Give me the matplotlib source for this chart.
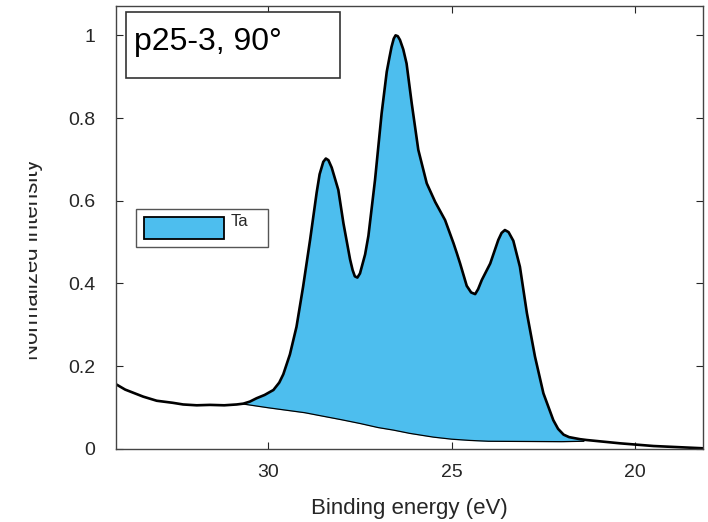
import numpy as np
import matplotlib
matplotlib.use('Agg')
import matplotlib.pyplot as plt
from matplotlib.patches import Rectangle
from matplotlib.transforms import Bbox

plt.rcParams['font.family'] = ['Liberation Sans', 'DejaVu Sans']

# measured spectrum (binding energy in eV, normalized intensity)
energy = [34.15, 33.9, 33.41, 33.04, 32.6, 32.32, 31.95, 31.59, 31.2, 30.86,
          30.68, 30.5, 30.32, 30.1, 29.86, 29.7, 29.59, 29.41, 29.23, 29.05,
          28.86, 28.68, 28.6, 28.5, 28.43, 28.36, 28.27, 28.09, 27.95, 27.77,
          27.7, 27.64, 27.57, 27.5, 27.36, 27.27, 27.09, 26.91, 26.77, 26.7,
          26.64, 26.58, 26.53, 26.47, 26.41, 26.32, 26.23, 26.09, 25.91, 25.68,
          25.45, 25.18, 24.95, 24.86, 24.77, 24.59, 24.47, 24.36, 24.28, 24.18,
          23.95, 23.73, 23.64, 23.55, 23.45, 23.32, 23.14, 22.95, 22.73, 22.5,
          22.23, 22.1, 21.95, 21.8, 21.5, 21.32, 20.41, 19.5, 18.15]
intensity = [0.156, 0.143, 0.126, 0.116, 0.111, 0.107, 0.105, 0.106, 0.105, 0.107,
             0.109, 0.114, 0.122, 0.130, 0.142, 0.160, 0.180, 0.228, 0.295, 0.392,
             0.505, 0.620, 0.664, 0.694, 0.702, 0.698, 0.680, 0.626, 0.545, 0.458,
             0.432, 0.417, 0.414, 0.424, 0.470, 0.515, 0.650, 0.811, 0.912, 0.945,
             0.972, 0.992, 1.0, 0.998, 0.989, 0.966, 0.932, 0.836, 0.723, 0.642,
             0.597, 0.553, 0.497, 0.473, 0.448, 0.394, 0.378, 0.374, 0.386, 0.408,
             0.448, 0.505, 0.522, 0.529, 0.524, 0.503, 0.440, 0.328, 0.223, 0.134,
             0.069, 0.048, 0.034, 0.028, 0.023, 0.021, 0.013, 0.0065, 0.001]

# Shirley-type background
bg_energy = [30.68, 30.0, 29.5, 29.0, 28.68, 28.0, 27.5, 27.0, 26.59, 26.14,
             25.5, 25.0, 24.5, 24.0, 23.0, 22.0, 21.4]
bg_intensity = [0.108, 0.099, 0.093, 0.087, 0.0815, 0.070, 0.061, 0.051, 0.045, 0.037,
                0.028, 0.023, 0.020, 0.018, 0.0175, 0.017, 0.018]

sample_label = 'p25-3, 90°'
component = 'Ta'
fill_color = '#4DBEEE'
axis_color = '#262626'

energy = np.array(energy)
intensity = np.array(intensity)
bg_energy = np.array(bg_energy)
bg_intensity = np.array(bg_intensity)

fig = plt.figure(figsize=(7.08, 5.22), dpi=100)
ax = fig.add_axes([116/708, 1 - 448.7/522, (703 - 116)/708, (448.7 - 6)/522])

# fill between spectrum and background
m = (energy <= bg_energy.max()) & (energy >= bg_energy.min())
xs = np.concatenate(([bg_energy.max()], energy[m], [bg_energy.min()]))
ys = np.interp(xs, energy[::-1], intensity[::-1])
bs = np.interp(xs, bg_energy[::-1], bg_intensity[::-1])
ax.fill_between(xs, bs, ys, color=fill_color, linewidth=0)

ax.plot(bg_energy, bg_intensity, color='black', linewidth=0.9)
ax.plot(energy, intensity, color='black', linewidth=1.9,
        solid_joinstyle='round')

ax.set_xlim(34.15, 18.15)
ax.set_ylim(0, 1.071)
ax.set_xticks([30, 25, 20])
ax.set_yticks([0, 0.2, 0.4, 0.6, 0.8, 1])
ax.set_yticklabels(['0', '0.2', '0.4', '0.6', '0.8', '1'])
ax.tick_params(direction='in', length=5, width=0.8, colors=axis_color,
               labelsize=14, top=True, right=True)
ax.tick_params(axis='x', pad=11)
ax.tick_params(axis='y', pad=15)
for s in ax.spines.values():
    s.set_color('#444444')
    s.set_linewidth(1.0)

ax.set_xlabel('Binding energy (eV)', fontsize=16, color=axis_color, labelpad=12)
ylab = ax.set_ylabel('Normalized intensity', fontsize=16, color=axis_color)
ax.yaxis.set_label_coords((43 - 116)/587, (448.7 - 260)/442.7)
# the label is cut at the left edge in the reference
ylab.set_clip_box(Bbox.from_extents(29, 0, 708, 522))
ylab.set_clip_on(True)

# sample name box
fig.patches.append(Rectangle((126/708, 1 - 78/522), 214/708, 66/522,
                             transform=fig.transFigure, facecolor='white',
                             edgecolor='#333333', linewidth=1.2))
fig.text(134/708, 1 - 42/522, sample_label, fontsize=23, color='black',
         va='center', ha='left')

# legend
fig.patches.append(Rectangle((136/708, 1 - 247/522), 132/708, 38/522,
                             transform=fig.transFigure, facecolor='white',
                             edgecolor='#555555', linewidth=1.0))
fig.patches.append(Rectangle((144/708, 1 - 239/522), 80/708, 22/522,
                             transform=fig.transFigure, facecolor=fill_color,
                             edgecolor='black', linewidth=1.3))
fig.text(231/708, 1 - 222/522, component, fontsize=12, color=axis_color,
         va='center', ha='left')

fig.savefig('out.png', dpi=100)
